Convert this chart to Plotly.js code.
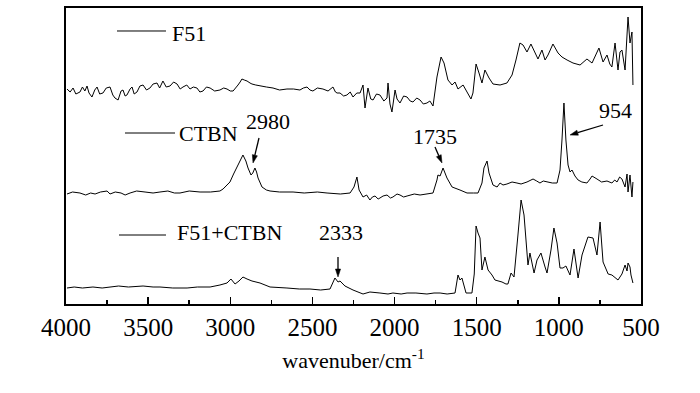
<!DOCTYPE html>
<html>
<head>
<meta charset="utf-8">
<script src="https://cdn.plot.ly/plotly-3.0.1.min.js"></script>
<style>html,body{margin:0;padding:0;background:#fff;}#chart{width:700px;height:393px;}</style>
</head>
<body>
<div id="chart"></div>
<script>
// ---- data (wavenumber in cm^-1, intensity in arbitrary offset units) ----
const f51Wn = [3994,3975,3957,3940,3915,3900,3885,3872,3860,3842,3825,3811,3795,3775,3755,3732,3715,3702,3683,3665,3653,3640,3629,3610,3598,3585,3568,3550,3531,3510,3489,3470,3446,3430,3410,3390,3367,3345,3324,3305,3288,3265,3245,3225,3203,3185,3166,3145,3123,3095,3063,3040,3020,3000,2983,2965,2953,2940,2929,2915,2898,2880,2868,2845,2819,2780,2740,2700,2655,2615,2576,2555,2533,2515,2497,2470,2436,2405,2375,2360,2350,2332,2310,2290,2270,2253,2230,2210,2192,2180,2162,2145,2131,2110,2089,2065,2046,2040,2028,2016,1997,1985,1967,1945,1924,1905,1888,1865,1845,1825,1803,1785,1766,1742,1717,1699,1675,1650,1632,1614,1583,1553,1535,1523,1504,1486,1468,1450,1425,1401,1358,1316,1285,1261,1237,1218,1194,1170,1145,1127,1103,1084,1066,1036,1005,981,950,914,871,829,798,775,756,731,707,690,677,658,640,628,616,597,585,579,567,555,549];
const f51Val = [215,212,216,210,212,217,213,218,211,207,214,217,210,211,216,217,209,206,204,213,214,208,209,215,217,210,212,218,219,214,216,220,221,216,223,217,218,222,220,215,217,219,215,217,216,212,213,217,216,213,214,216,215,213,213,216,219,222,225,224,223,221,220,219,218,217,216,214,215,215,214,216,217,214,213,216,215,213,217,212,211,211,208,209,212,207,211,211,219,196,216,205,204,210,209,203,206,221,200,192,214,205,201,208,207,203,202,206,204,200,201,203,198,227,247,241,224,219,222,215,219,211,205,211,240,231,221,234,226,220,219,221,229,244,261,259,252,260,251,245,254,244,249,260,251,247,244,241,239,245,241,250,256,242,249,240,237,261,234,252,254,234,267,287,261,272,219];

const ctbnWn = [3994,3960,3915,3880,3850,3823,3790,3750,3732,3700,3665,3640,3610,3570,3519,3470,3428,3380,3340,3306,3250,3184,3120,3063,3044,3002,2980,2959,2940,2923,2905,2892,2874,2863,2850,2840,2831,2807,2780,2758,2700,2618,2550,2470,2411,2330,2271,2247,2229,2216,2192,2170,2150,2135,2119,2100,2089,2070,2046,2025,2010,1985,1967,1945,1924,1880,1845,1800,1766,1742,1736,1723,1705,1681,1650,1602,1559,1520,1492,1468,1456,1437,1425,1401,1376,1358,1340,1316,1285,1255,1230,1194,1157,1135,1115,1095,1072,1040,1011,993,981,969,957,944,932,920,902,883,860,829,810,798,768,740,707,677,660,646,630,616,597,585,579,567,555,549];
const ctbnVal = [110,112,111,109,111,110,112,113,110,112,111,109,111,113,112,111,112,113,111,111,113,112,112,113,115,122,130,137,144,149,143,136,129,131,136,132,126,117,114,113,112,112,111,112,111,110,111,117,127,114,107,109,104,107,108,105,106,108,109,106,107,110,109,107,108,110,109,110,111,124,129,128,136,126,117,114,111,111,111,121,136,143,131,119,117,121,119,120,122,121,120,122,125,123,121,123,122,121,121,134,164,201,164,139,132,134,128,124,122,121,125,128,125,122,123,121,124,122,127,125,117,130,112,129,107,122];

const mixWn = [3994,3950,3900,3836,3780,3732,3680,3620,3531,3470,3428,3350,3263,3200,3123,3063,3020,2996,2971,2947,2923,2898,2868,2819,2758,2655,2580,2515,2450,2393,2375,2363,2344,2332,2302,2253,2192,2150,2089,2040,2010,1960,1924,1870,1803,1760,1723,1680,1632,1614,1602,1590,1565,1529,1515,1504,1492,1480,1468,1450,1431,1407,1389,1346,1322,1310,1291,1273,1249,1230,1212,1188,1176,1151,1133,1109,1084,1072,1048,1030,1011,993,975,957,932,908,883,859,823,792,768,749,731,700,677,640,616,597,585,579,567,561,549];
const mixVal = [16,17,16,17,16,17,18,17,18,17,17,16,16,17,17,19,21,25,20,23,27,25,23,21,17,16,15,15,14,15,21,26,22,23,18,14,10,12,11,10,11,10,11,11,10,11,11,10,11,29,24,26,11,11,30,78,71,66,34,47,34,29,24,22,20,20,31,27,69,104,89,39,51,31,44,51,37,31,54,76,61,36,36,38,29,55,26,49,67,66,49,82,42,30,29,24,30,39,33,41,37,29,21];

const seriesNames = ['F51', 'CTBN', 'F51+CTBN'];
const peakLabels = ['2980', '1735', '954', '2333'];
const xTickVals = [4000, 3500, 3000, 2500, 2000, 1500, 1000, 500];

// ---- figure ----
const FONT = "'Liberation Serif', 'Times New Roman', serif";
const W = 700, H = 393, ML = 66, MR = 59, MT = 8, MB = 89;
const PW = W - ML - MR, PH = H - MT - MB;
const lineStyle = {color: '#000', width: 1};
const traces = [
  {x: f51Wn, y: f51Val, name: seriesNames[0], mode: 'lines', line: lineStyle, hoverinfo: 'skip'},
  {x: ctbnWn, y: ctbnVal, name: seriesNames[1], mode: 'lines', line: lineStyle, hoverinfo: 'skip'},
  {x: mixWn, y: mixVal, name: seriesNames[2], mode: 'lines', line: lineStyle, hoverinfo: 'skip'}
];

const txt = (text, x, y, xanchor) => ({text, x, y, xref: 'paper', yref: 'paper', xanchor: xanchor || 'center', yanchor: 'middle', showarrow: false, font: {family: FONT, size: 22, color: '#000'}});
const seg = (x0, x1, y) => ({type: 'line', xref: 'paper', yref: 'paper', x0, x1, y0: y, y1: y, line: {color: '#000', width: 1}});
// arrow built from page-pixel tail/tip positions (annotation layout only)
const toPX = px => (px - ML) / PW, toPY = py => (MT + PH - py) / PH;
function arrowShapes(tx, ty, hx, hy) {
  const dx = hx - tx, dy = hy - ty, L = Math.hypot(dx, dy);
  const ux = dx / L, uy = dy / L, nx = -uy, ny = ux, hl = 8, hw = 2.6;
  const bx = hx - ux * hl, by = hy - uy * hl;
  return [
    {type: 'line', xref: 'paper', yref: 'paper', x0: toPX(tx), y0: toPY(ty), x1: toPX(bx), y1: toPY(by), line: {color: '#000', width: 1.3}},
    {type: 'path', xref: 'paper', yref: 'paper', fillcolor: '#000', line: {color: '#000', width: 0.5},
     path: `M ${toPX(hx)} ${toPY(hy)} L ${toPX(bx + nx * hw)} ${toPY(by + ny * hw)} L ${toPX(bx - nx * hw)} ${toPY(by - ny * hw)} Z`}
  ];
}

const layout = {
  width: W, height: H,
  margin: {l: ML, r: MR, t: MT, b: MB},
  paper_bgcolor: '#fff', plot_bgcolor: '#fff',
  showlegend: false,
  font: {family: FONT, color: '#000', size: 22},
  xaxis: {
    range: [4000, 500], tickmode: 'array', tickvals: xTickVals,
    ticks: 'inside', ticklen: 7, tickwidth: 1.5, tickcolor: '#000',
    minor: {dtick: 250, tick0: 500, ticks: 'inside', ticklen: 4, tickwidth: 1.5, tickcolor: '#000'},
    showline: true, linewidth: 2, linecolor: '#000', mirror: true,
    showgrid: false, zeroline: false,
    tickfont: {family: FONT, size: 25, color: '#000'},
    title: {text: 'wavenuber/cm<sup>-1</sup>', font: {family: FONT, size: 22, color: '#000'}, standoff: 13}
  },
  yaxis: {
    range: [0, 296], showticklabels: false, ticks: '',
    showline: true, linewidth: 2, linecolor: '#000', mirror: true,
    showgrid: false, zeroline: false
  },
  shapes: [
    seg(0.0887, 0.1739, 0.9223),
    seg(0.1026, 0.1896, 0.5777),
    seg(0.0922, 0.1739, 0.2331),
    ...arrowShapes(259, 138, 253, 163),
    ...arrowShapes(435, 147, 442, 163),
    ...arrowShapes(603, 125, 570, 135),
    ...arrowShapes(338, 257, 338, 277)
  ],
  annotations: [
    txt(seriesNames[0], 0.1809, 0.9155, 'left'),
    txt(seriesNames[1], 0.193, 0.5777, 'left'),
    txt(seriesNames[2], 0.1896, 0.2399, 'left'),
    txt(peakLabels[0], 0.3513, 0.6149),
    txt(peakLabels[1], 0.6417, 0.5642),
    txt(peakLabels[2], 0.9565, 0.6554),
    txt(peakLabels[3], 0.4783, 0.2399)
  ]
};

Plotly.newPlot('chart', traces, layout, {displayModeBar: false, staticPlot: true});
</script>
</body>
</html>
